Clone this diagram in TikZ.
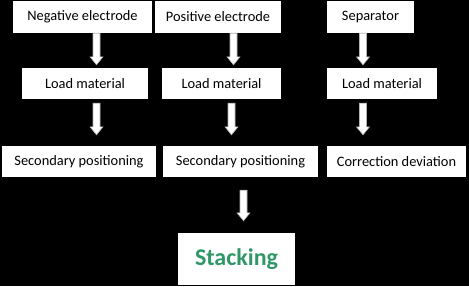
\documentclass[tikz,border=0pt]{standalone}
\usepackage{fontspec}
\setmainfont{Carlito}
\usetikzlibrary{calc}

\definecolor{stackgreen}{RGB}{48,152,104}

\tikzset{
  box/.style={fill=white, inner sep=0pt, font=\fontsize{14.4bp}{17bp}\selectfont},
  flowarrow/.style={draw=gray!60, fill=white, line width=0.6bp,
    to path={let \p1=(\tikztostart), \p2=(\tikztotarget) in
      (\x1-3.5bp,\y1) -- (\x1+3.5bp,\y1) -- (\x1+3.5bp,\y2+8bp)
      -- (\x1+6.5bp,\y2+8bp) -- (\x1,\y2) -- (\x1-6.5bp,\y2+8bp)
      -- (\x1-3.5bp,\y2+8bp) -- cycle}}
}

\begin{document}
\begin{tikzpicture}[x=1bp,y=-1bp]

\fill[black] (0,0) rectangle (469,286);

\node[box, minimum width=139bp, minimum height=32bp] (neg) at (82.5,17) {Negative electrode};
\node[box, minimum width=126bp, minimum height=32bp] (pos) at (218,17) {Positive electrode};
\node[box, minimum width=87bp, minimum height=32bp] (sep) at (370.5,17) {Separator};

\node[box, minimum width=126bp, minimum height=31bp] (loadneg) at (85,83.5) {Load material};
\node[box, minimum width=119bp, minimum height=31bp] (loadpos) at (221.5,83.5) {Load material};
\node[box, minimum width=110bp, minimum height=31bp] (loadsep) at (382,83.5) {Load material};

\node[box, minimum width=154bp, minimum height=31bp] (posneg) at (79,161.5) {Secondary positioning};
\node[box, minimum width=155bp, minimum height=31bp] (pospos) at (240.5,161.5) {Secondary positioning};
\node[box, minimum width=139bp, minimum height=31bp] (corr) at (396.5,161.5) {Correction deviation};

\node[box, minimum width=117bp, minimum height=52bp,
      font=\fontsize{24bp}{28bp}\selectfont\bfseries, text=stackgreen] (stack) at (236.5,259) {Stacking};

\draw[flowarrow] ([xshift=14bp]neg.south) to ([yshift=3bp]loadneg.north);
\draw[flowarrow] ([xshift=15.5bp]pos.south) to ([yshift=3bp]loadpos.north);
\draw[flowarrow] ([xshift=-7.5bp]sep.south) to ([yshift=3bp]loadsep.north);

\draw[flowarrow] ([xshift=11.5bp,yshift=-4bp]loadneg.south) to ([yshift=11bp]posneg.north);
\draw[flowarrow] ([xshift=10bp,yshift=-4bp]loadpos.south) to ([yshift=11bp]pospos.north);
\draw[flowarrow] ([xshift=-19bp,yshift=-4bp]loadsep.south) to ([yshift=11bp]corr.north);

\draw[flowarrow] ([xshift=3bp,yshift=-13bp]pospos.south) to ([yshift=12bp]stack.north);

\end{tikzpicture}
\end{document}
